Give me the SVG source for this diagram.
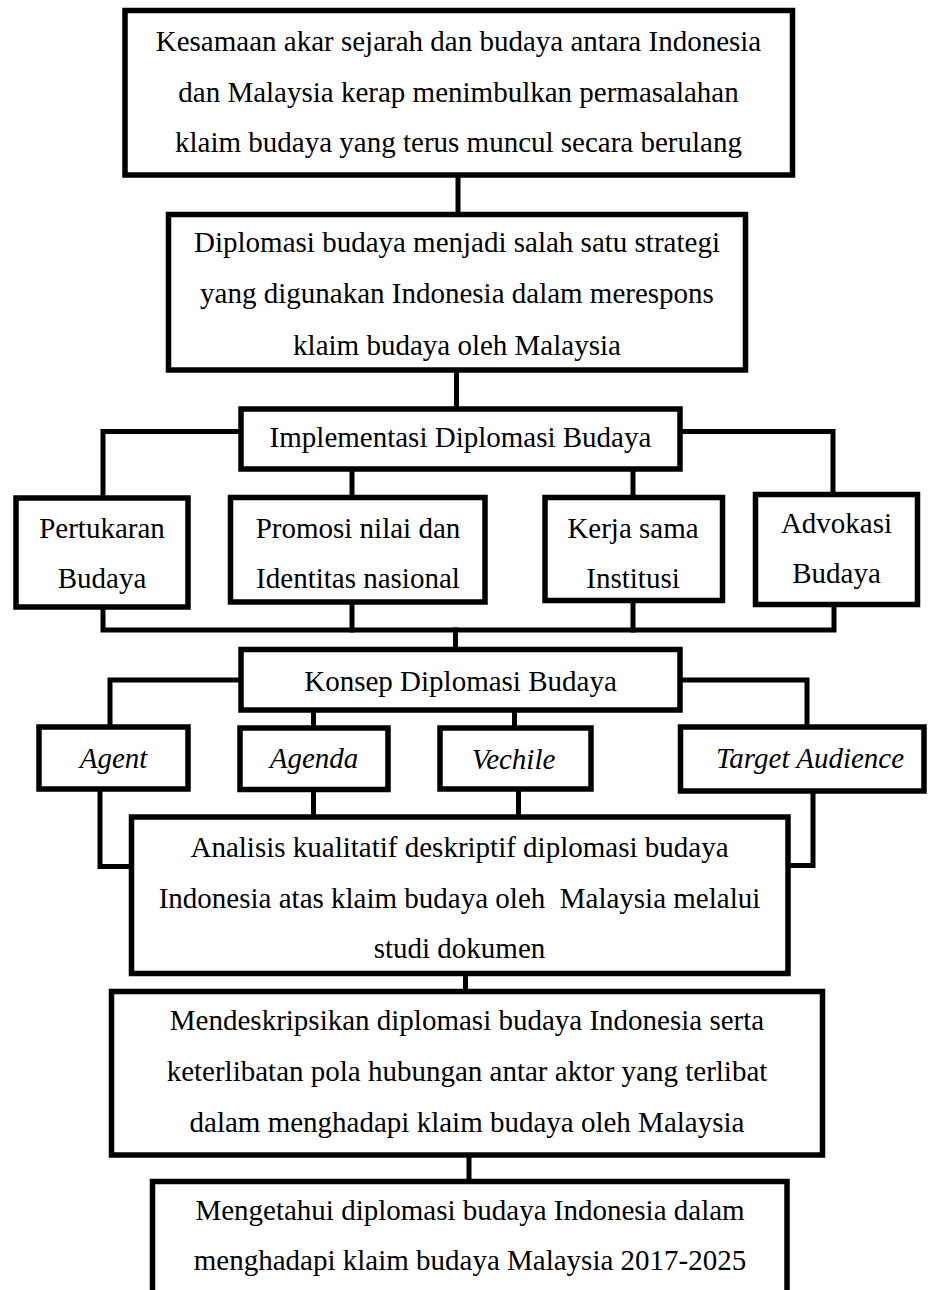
<svg xmlns="http://www.w3.org/2000/svg" width="928" height="1290" viewBox="0 0 928 1290">
<style>
.box{fill:#fff;stroke:#000;stroke-width:5.5;stroke-linejoin:miter}
.con{fill:none;stroke:#000;stroke-width:5;stroke-linejoin:miter;stroke-linecap:square}
text{font-family:"Liberation Serif","Times New Roman",serif;font-size:29px;fill:#000;text-anchor:middle}
.it{font-style:italic}
.pre{white-space:pre}
</style>
<rect width="928" height="1290" fill="#fff"/>
<g id="connectors">
<path class="con" d="M458 175V214.5"/>
<path class="con" d="M456.5 370V409"/>
<path class="con" d="M241 431.5H103V498"/>
<path class="con" d="M680 431.5H833V494.5"/>
<path class="con" d="M352 469V497.5"/>
<path class="con" d="M633 469V497.5"/>
<path class="con" d="M103 607V630H834V604.5"/>
<path class="con" d="M352 602V630"/>
<path class="con" d="M633 600.5V630"/>
<path class="con" d="M455.5 630V649.5"/>
<path class="con" d="M241 680H110V727"/>
<path class="con" d="M680 680H807V727"/>
<path class="con" d="M313.5 710V728"/>
<path class="con" d="M514.5 710V728"/>
<path class="con" d="M100 789V866.5H131.5"/>
<path class="con" d="M313.5 789.5V817"/>
<path class="con" d="M518.5 789V817"/>
<path class="con" d="M813 791V865.5H788"/>
<path class="con" d="M465.5 973.5V991.5"/>
<path class="con" d="M469 1155V1181.5"/>
</g>
<g id="n1">
<rect class="box" x="125" y="10.5" width="667.5" height="164.5"/>
<text x="458.5" y="51">Kesamaan akar sejarah dan budaya antara Indonesia</text>
<text x="458.5" y="101.5">dan Malaysia kerap menimbulkan permasalahan</text>
<text x="458.5" y="152">klaim budaya yang terus muncul secara berulang</text>
</g>
<g id="n2">
<rect class="box" x="168.5" y="214.5" width="577" height="155.5"/>
<text x="457" y="252">Diplomasi budaya menjadi salah satu strategi</text>
<text x="457" y="303">yang digunakan Indonesia dalam merespons</text>
<text x="457" y="355">klaim budaya oleh Malaysia</text>
</g>
<g id="n3">
<rect class="box" x="241" y="409" width="439" height="60"/>
<text x="460.5" y="447">Implementasi Diplomasi Budaya</text>
</g>
<g id="n4">
<rect class="box" x="16" y="498" width="172" height="109"/>
<text x="102" y="538">Pertukaran</text>
<text x="102" y="588">Budaya</text>
</g>
<g id="n5">
<rect class="box" x="230.5" y="497.5" width="254.5" height="104.5"/>
<text x="358" y="538">Promosi nilai dan</text>
<text x="358" y="588">Identitas nasional</text>
</g>
<g id="n6">
<rect class="box" x="545" y="497.5" width="177.5" height="103"/>
<text x="633" y="538">Kerja sama</text>
<text x="633" y="588">Institusi</text>
</g>
<g id="n7">
<rect class="box" x="755.5" y="494.5" width="162" height="110"/>
<text x="836.5" y="533">Advokasi</text>
<text x="836.5" y="583">Budaya</text>
</g>
<g id="n8">
<rect class="box" x="241" y="649.5" width="439" height="60.5"/>
<text x="460.5" y="691">Konsep Diplomasi Budaya</text>
</g>
<g id="n9">
<rect class="box" x="39" y="727" width="149" height="62"/>
<text class="it" x="113.5" y="768">Agent</text>
</g>
<g id="n10">
<rect class="box" x="240" y="728" width="148" height="61.5"/>
<text class="it" x="314" y="768">Agenda</text>
</g>
<g id="n11">
<rect class="box" x="440" y="728" width="151" height="61"/>
<text class="it" x="513.5" y="769">Vechile</text>
</g>
<g id="n12">
<rect class="box" x="680.5" y="727" width="243.5" height="64"/>
<text class="it" x="810" y="768">Target Audience</text>
</g>
<g id="n13">
<rect class="box" x="131.5" y="817" width="656.5" height="156.5"/>
<text x="459.5" y="857">Analisis kualitatif deskriptif diplomasi budaya</text>
<text class="pre" x="459.5" y="907.5">Indonesia atas klaim budaya oleh  Malaysia melalui</text>
<text x="459.5" y="958">studi dokumen</text>
</g>
<g id="n14">
<rect class="box" x="111.5" y="991.5" width="711" height="163.5"/>
<text x="467" y="1030">Mendeskripsikan diplomasi budaya Indonesia serta</text>
<text x="467" y="1081">keterlibatan pola hubungan antar aktor yang terlibat</text>
<text x="467" y="1132">dalam menghadapi klaim budaya oleh Malaysia</text>
</g>
<g id="n15">
<rect class="box" x="152.5" y="1181.5" width="634.5" height="130"/>
<text x="470" y="1220">Mengetahui diplomasi budaya Indonesia dalam</text>
<text x="470" y="1270">menghadapi klaim budaya Malaysia 2017-2025</text>
</g>
</svg>
